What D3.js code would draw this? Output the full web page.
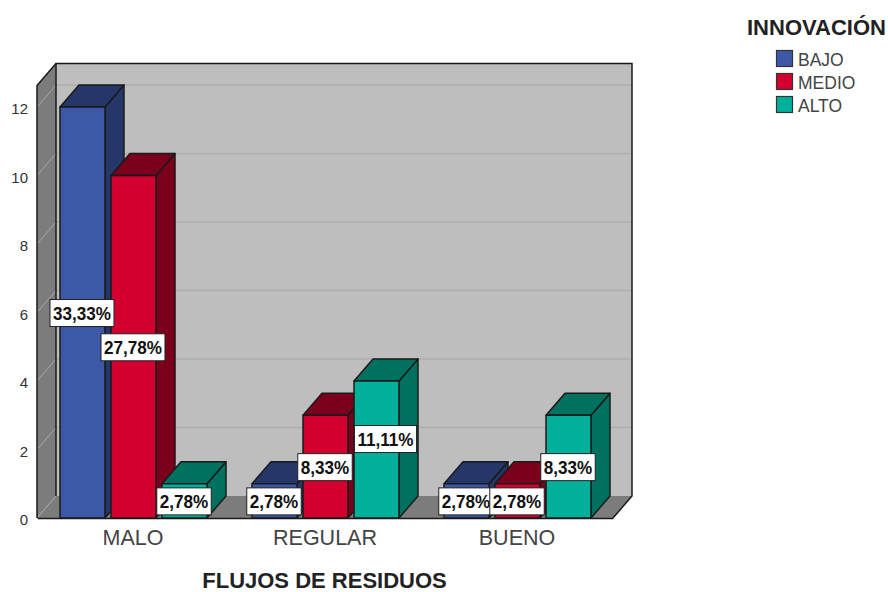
<!DOCTYPE html>
<html>
<head>
<meta charset="utf-8">
<script src="https://cdn.jsdelivr.net/npm/d3@7"></script>
<style>
  html, body { margin: 0; padding: 0; background: #fff; }
  svg { display: block; font-family: "Liberation Sans", Arial, sans-serif; }
</style>
</head>
<body>
<div id="chart"></div>
<script>
// data
var categories = ["MALO", "REGULAR", "BUENO"];
var seriesNames = ["BAJO", "MEDIO", "ALTO"];
var bajo = [12, 1, 1];
var medio = [10, 3, 1];
var alto = [1, 4, 3];
var bajoLabels = ["33,33%", "2,78%", "2,78%"];
var medioLabels = ["27,78%", "8,33%", "2,78%"];
var altoLabels = ["2,78%", "11,11%", "8,33%"];
var yTicks = [0, 2, 4, 6, 8, 10, 12];
var axisMax = 12.63;

var width = 888;
var height = 592;

// depth of the fake 3d box
var depthX = 19;
var depthY = 22;

var frontColors = ["#3e58a8", "#d3002f", "#00b09b"];
var darkColors = ["#253668", "#7a001c", "#00705f"];

var svg = d3.select("#chart")
    .append("svg")
    .attr("width", width)
    .attr("height", height);

var x = d3.scaleBand().domain(categories).range([37, 613]);
var xInner = d3.scaleBand().domain(seriesNames).range([23, 170]).paddingInner(0.118);
var y = d3.scaleLinear().domain([0, axisMax]).range([518, 85.5]);

var line = d3.line();
var edge = "#1a1a1a";

// walls
var x0 = x.range()[0], x1 = x.range()[1];
var yBase = y(0), yTop = y(axisMax);

svg.append("path")
    .attr("d", line([[x0 + depthX, yTop - depthY], [x1 + depthX, yTop - depthY], [x1 + depthX, yBase - depthY], [x0 + depthX, yBase - depthY]]) + "Z")
    .attr("fill", "#bebebe");
svg.append("path")
    .attr("d", line([[x0, yTop], [x0 + depthX, yTop - depthY], [x0 + depthX, yBase - depthY], [x0, yBase]]) + "Z")
    .attr("fill", "#7c7c7c");
svg.append("path")
    .attr("d", line([[x0, yBase], [x0 + depthX, yBase - depthY], [x1 + depthX, yBase - depthY], [x1, yBase]]) + "Z")
    .attr("fill", "#7c7c7c");

// grid lines on side wall and back wall
yTicks.forEach(function(t) {
    svg.append("line")
        .attr("x1", x0).attr("y1", y(t))
        .attr("x2", x0 + depthX).attr("y2", y(t) - depthY)
        .attr("stroke", "#a8a8a8").attr("stroke-width", 1);
    if (t > 0) {
        svg.append("line")
            .attr("x1", x0 + depthX).attr("y1", y(t) - depthY)
            .attr("x2", x1 + depthX).attr("y2", y(t) - depthY)
            .attr("stroke", "#adadad").attr("stroke-width", 1.5);
    }
});

// outlines, the back edge of the floor has none
svg.append("path")
    .attr("d", line([[x0 + depthX, yBase - depthY], [x0 + depthX, yTop - depthY], [x1 + depthX, yTop - depthY], [x1 + depthX, yBase - depthY], [x1, yBase]]))
    .attr("fill", "none").attr("stroke", edge).attr("stroke-width", 1.5);
svg.append("path")
    .attr("d", line([[x0, yBase], [x0, yTop], [x0 + depthX, yTop - depthY]]))
    .attr("fill", "none").attr("stroke", edge).attr("stroke-width", 1.5);

// axes
var yAxis = svg.append("g")
    .attr("transform", "translate(" + x0 + ",2)")
    .call(d3.axisLeft(y).tickValues(yTicks).tickSize(0).tickPadding(9));
yAxis.select(".domain").remove();
yAxis.selectAll("text")
    .attr("font-size", 15).attr("font-family", "Liberation Sans").attr("fill", "#333");

var xAxis = svg.append("g")
    .attr("transform", "translate(0," + yBase + ")")
    .call(d3.axisBottom(x).tickSize(0).tickPadding(12));
xAxis.select(".domain").attr("stroke", edge).attr("stroke-width", 1.5);
xAxis.selectAll("text")
    .attr("font-size", 21.5).attr("font-family", "Liberation Sans").attr("fill", "#444");

// bars, left to right so each one overlaps the side of the previous
var allSeries = [bajo, medio, alto];
var allLabels = [bajoLabels, medioLabels, altoLabels];
var bars = [];
categories.forEach(function(cat, c) {
    seriesNames.forEach(function(name, s) {
        bars.push({cat: cat, name: name, s: s, value: allSeries[s][c], label: allLabels[s][c]});
    });
});

var barG = svg.append("g").selectAll("g")
    .data(bars)
    .join("g")
    .attr("stroke", edge)
    .attr("stroke-width", 1.5)
    .attr("stroke-linejoin", "round");

function bx(d) { return x(d.cat) + xInner(d.name); }

barG.append("path")  // side
    .attr("d", function(d) {
        var r = bx(d) + xInner.bandwidth(), t = y(d.value);
        return line([[r, t], [r + depthX, t - depthY], [r + depthX, yBase - depthY], [r, yBase]]) + "Z";
    })
    .attr("fill", function(d) { return darkColors[d.s]; });

barG.append("path")  // top
    .attr("d", function(d) {
        var l = bx(d), r = l + xInner.bandwidth(), t = y(d.value);
        return line([[l, t], [l + depthX, t - depthY], [r + depthX, t - depthY], [r, t]]) + "Z";
    })
    .attr("fill", function(d) { return darkColors[d.s]; });

barG.append("rect")  // front
    .attr("x", bx)
    .attr("y", function(d) { return y(d.value); })
    .attr("width", xInner.bandwidth())
    .attr("height", function(d) { return yBase - y(d.value); })
    .attr("fill", function(d) { return frontColors[d.s]; });

// value labels, white boxes centred on the bars
var labelG = svg.append("g").selectAll("g")
    .data(bars)
    .join("g")
    .attr("transform", function(d) {
        var lx = bx(d) + xInner.bandwidth() / 2 - 0.5;
        var ly = (y(d.value) + yBase) / 2 + 0.5;
        // this one was moved by hand in the original
        if (d.label == "11,11%") { lx += 9.5; ly -= 11; }
        return "translate(" + lx + "," + ly + ")";
    });

var labelBox = labelG.append("rect")
    .attr("fill", "#fff")
    .attr("stroke", "#222")
    .attr("stroke-width", 1);

// the original labels are a bit condensed
var squeeze = 0.9;
var labelText = labelG.append("text")
    .attr("text-anchor", "middle")
    .attr("dy", "0.35em")
    .attr("transform", "scale(" + squeeze + ",1)")
    .attr("font-size", 19)
    .attr("font-weight", "bold")
    .attr("fill", "#111")
    .text(function(d) { return d.label; });

labelText.each(function(d) {
    var b = this.getBBox();
    d.w = b.width * squeeze + 6;
});
labelBox
    .attr("x", function(d) { return -d.w / 2; })
    .attr("y", -13.5)
    .attr("width", function(d) { return d.w; })
    .attr("height", 27);

// axis title
svg.append("text")
    .attr("x", 324.5).attr("y", 587.5)
    .attr("text-anchor", "middle")
    .attr("font-size", 22).attr("font-weight", "bold").attr("fill", "#222")
    .text("FLUJOS DE RESIDUOS");

// legend
svg.append("text")
    .attr("x", 747).attr("y", 35)
    .attr("font-size", 22).attr("font-weight", "bold").attr("fill", "#222")
    .text("INNOVACIÓN");

var legendY = d3.scalePoint().domain(seriesNames).range([50, 96]);

var legend = svg.append("g").selectAll("g")
    .data(seriesNames)
    .join("g")
    .attr("transform", function(d) { return "translate(776," + legendY(d) + ")"; });

legend.append("rect")
    .attr("x", 0.5).attr("y", 0.5)
    .attr("width", 16).attr("height", 16)
    .attr("fill", function(d, i) { return frontColors[i]; })
    .attr("stroke", "#333").attr("stroke-width", 1.2);

legend.append("text")
    .attr("x", 22).attr("y", 16)
    .attr("font-size", 17.5).attr("fill", "#444")
    .text(function(d) { return d; });
</script>
</body>
</html>
